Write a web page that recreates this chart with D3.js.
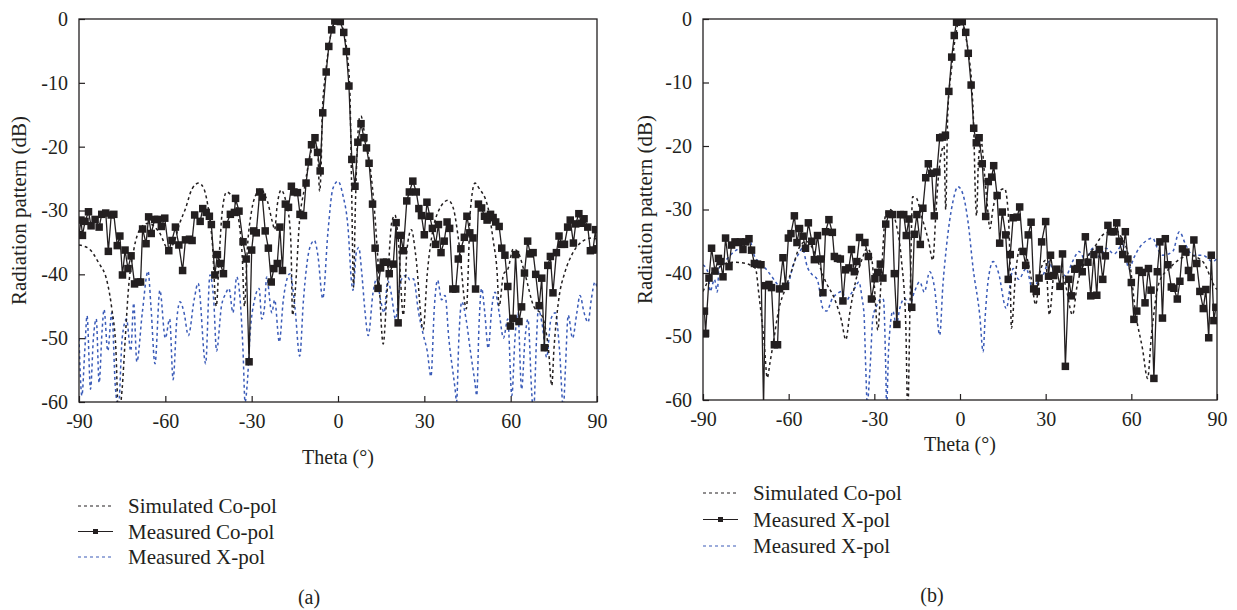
<!DOCTYPE html>
<html>
<head>
<meta charset="utf-8">
<script src="https://cdn.jsdelivr.net/npm/d3@7"></script>
<style>
  body { margin: 0; background: #fff; }
  svg text { font-family: "Liberation Serif", "DejaVu Serif", serif; fill: #231f20; }
</style>
</head>
<body>
<svg id="chart" width="1237" height="610"></svg>
<script>
// ---- data (theta in degrees, level in dB) ----
const xTicks = [-90, -60, -30, 0, 30, 60, 90];
const yTicks = [0, -10, -20, -30, -40, -50, -60];

// panel (a) simulated co-pol
const simThetaA = [-90,-86.5,-83.3,-80.2,-78.6,-77.2,-76.3,-75,-74,-72.8,-70.9,-68.6,-66,-62,-59,-57,-55,-53,-50.7,-48.4,-46.6,-44.9,-43.7,-42.3,-41.2,-40.2,-38.7,-37.3,-35.6,-34.4,-33.3,-32.5,-31.5,-30,-28.5,-26.7,-25.5,-24.5,-22.8,-22,-21.2,-19.8,-18.1,-16.8,-16.3,-15.8,-14.8,-13.4,-11.7,-9.9,-8.2,-7,-6.4,-5.8,-5.5,-4.1,-2.3,-0.4,1.7,3.1,4.1,4.7,5.4,6,6.7,7.6,8,9.3,11.1,12.8,14,15.7,16.9,18.7,19.8,21,22.7,24,25.5,27,29.6,31,33,35,38.3,40.1,42,44.6,46,47.6,49,52.2,54,55.2,56,57.5,59.1,60.9,62.5,65,68,70.8,73.1,74.3,75,76.6,78.9,81.2,84.7,88.2,90];
const simDbA = [-35.4,-36,-38.1,-41.2,-45.4,-51.6,-62,-57.9,-50.6,-42.2,-36,-32.8,-32,-33.5,-36,-35,-32,-29.7,-26.6,-25.7,-26.6,-30.2,-34.9,-45,-36.5,-30,-27.1,-27.5,-28.8,-31.8,-37,-45,-36,-30,-27.5,-26.6,-27.5,-28.6,-31.8,-33,-29.5,-26.8,-28.6,-32,-36,-46.4,-42.2,-31.8,-26.6,-21.9,-19.2,-21.3,-27,-22,-15.1,-7.7,-2,-0.2,-1.5,-5.1,-10.9,-25.5,-42,-30,-20,-15.3,-15.2,-18.2,-22.9,-30.7,-38.6,-50.9,-43.8,-31.8,-30.7,-34.9,-46.4,-36,-33,-37,-48.7,-40,-33,-30,-28.4,-29.7,-35,-45.4,-30,-25.7,-26.5,-29.7,-34.9,-39.1,-45,-40,-39.1,-36,-36.5,-40,-45,-46.4,-51.6,-57.4,-52,-44.3,-39.6,-37,-34.9,-34.3,-34.5];

// panel (a) measured co-pol
const measThetaA = [-90,-89.3,-88.8,-87.9,-86.7,-85.8,-84.4,-83,-82.1,-80.7,-79.8,-78.8,-77.9,-76.7,-75.8,-74.9,-74,-73,-71.9,-70.7,-69.5,-68.6,-67.9,-66.7,-65.8,-64.9,-63.7,-62.6,-61.4,-60.2,-58.8,-57.7,-56.5,-55.3,-54,-53,-51.6,-50.7,-49.8,-47.9,-47,-45.8,-44.7,-44,-42.8,-41.9,-40.9,-39.8,-38.8,-37.4,-36,-35.6,-34.4,-33,-31.9,-30.9,-30,-29.3,-28.4,-27.2,-26.3,-25.3,-24.2,-23.2,-22.3,-21.1,-20.2,-19.3,-18.3,-17.2,-16.2,-15.3,-14.1,-13.2,-12,-11.1,-10.2,-9.2,-8,-7.1,-6.2,-5.3,-4.1,-3.2,-2.2,-1.1,0,0.8,2,2.9,3.8,4.8,5.9,6.9,8,9,9.9,10.8,12,12.9,13.9,14.8,15.7,16.9,17.8,19.2,20.2,20.9,21.8,22.7,23.9,24.8,26,27.2,28.1,29,30,30.9,31.9,32.8,33.9,34.9,35.8,36.9,37.9,38.8,39.9,40.9,41.8,42.7,43.9,44.8,45.8,46.9,47.8,48.8,49.9,50.9,51.8,53,53.9,54.8,56,56.9,58,59,59.9,60.8,61.7,62.9,63.8,64.8,65.9,66.8,67.8,68.7,69.9,70.8,71.7,72.9,73.8,74.7,75.9,76.8,77.7,78.7,79.8,80.7,81.8,82.6,83.7,84.6,85.5,86.8,87.7,88.6,89.5,90];
const measDbA = [-33.8,-31.5,-33.9,-31.7,-30.2,-32.4,-31.4,-32.6,-30.6,-30.4,-36.4,-30.7,-30.6,-35.5,-34,-40.1,-36.2,-39.1,-37.1,-41.5,-41.2,-41.2,-32.9,-35.2,-31,-33.6,-31.4,-31.4,-32.5,-31.2,-36.3,-34.7,-32.6,-35.4,-39.4,-34.6,-34.5,-34.7,-30.7,-31.7,-29.7,-30.3,-30.9,-32.2,-40.1,-36.9,-38.3,-39.9,-32.2,-30.6,-30.3,-28.1,-30.1,-34.9,-37.6,-53.7,-36.2,-33.2,-33.5,-27.1,-27.9,-33.2,-35.9,-41.2,-39.1,-38.3,-32.6,-39.4,-29,-29.5,-26.2,-27.1,-27.2,-30.6,-30.8,-25.7,-22.4,-19.7,-18.6,-20.9,-23.8,-14.7,-8.3,-4.3,-1.7,-0.3,-0.3,-0.4,-2.1,-5.1,-10.5,-22,-26.2,-19.3,-16.4,-18.6,-20.2,-22.6,-29,-35.9,-42.2,-39,-38.1,-38.1,-39.9,-38.4,-31.9,-47.6,-33.9,-36.3,-28.5,-27.1,-25.4,-27.1,-29.7,-30.8,-33.8,-28.7,-30.9,-32.8,-35.3,-32.2,-36.6,-34.8,-31.8,-32.8,-42.3,-42.3,-37.6,-36,-34.2,-30.9,-33.5,-34.3,-42.3,-29,-29.6,-30.9,-31.5,-30.6,-31.1,-31.8,-32.5,-35.9,-37,-41.9,-48.1,-46.9,-36.9,-47.4,-45.1,-39.8,-34.8,-36.8,-36.6,-40,-44.9,-40.6,-51.5,-38.6,-37.2,-42.9,-36.6,-34,-35.3,-35.3,-32.6,-31.5,-35.1,-32.1,-30.5,-32,-31.3,-32.6,-36.3,-36.2,-33,-36];

// panel (a) measured x-pol
const xpolThetaA = [-90,-89,-88,-87.2,-86,-85,-84,-83,-82,-81.3,-80,-78.6,-77.4,-76.3,-75,-73.5,-72,-71,-69.9,-68,-66,-65,-63.6,-61.9,-60,-58.5,-57.3,-56,-54.9,-53.5,-52,-50,-48.6,-46,-44.5,-43.2,-42.2,-40.5,-39,-37.9,-36.5,-35.2,-34,-33,-32.3,-31.5,-30.5,-29,-27.4,-26.5,-25.5,-24.8,-23,-22,-20.4,-19,-16.7,-15,-13.3,-12,-9.9,-8.2,-7,-5.3,-3.5,-1.8,0,1.7,3.5,4.7,5.2,6.4,7.2,8.3,9.3,10.5,12.2,13.4,14.8,16,17.3,18.5,20,21.8,23.9,25,26.2,28,29.7,31,32.3,33.5,34.6,36,37.2,38.5,40.7,41.2,42,43,44.5,46,47.6,48.2,49,49.9,51,52.2,53.5,54.6,56,57.5,59,60.4,61.5,62.5,63.8,65,66,67.3,67.9,69,69.6,71,72.5,74,75.5,77,78.3,79,80,81.5,83,84.1,85.5,86.9,88,89.3,90];
const xpolDbA = [-50,-59,-52,-46.5,-58,-50,-47,-57,-49,-45.5,-52,-46,-57.4,-61,-50,-47,-52,-44.5,-53.7,-46,-39.5,-45,-54,-42.5,-50,-47,-56.5,-47,-44.3,-46,-49.6,-44,-41.4,-54,-40.1,-44,-52,-45,-43,-42.2,-46,-40.4,-44,-52,-60,-56.9,-49,-44,-42.2,-47,-45,-40.4,-46,-44,-50.6,-44,-39.9,-45,-52.8,-44,-36,-34.7,-37,-43.8,-33.4,-26.6,-25.4,-27.6,-32.8,-41.2,-42.5,-36.5,-35.8,-40,-45.4,-49.6,-42.8,-40.7,-44,-46,-41,-43,-47,-41,-40.1,-40.9,-40.7,-46,-49.6,-52,-56,-45,-40.9,-44,-43.3,-50,-58,-60,-50,-44.3,-47,-52,-57,-59,-48,-42.2,-46,-51.6,-45,-42.8,-46,-50,-47,-59,-50,-46,-58,-50,-47,-58.4,-62,-50,-45.4,-48,-53,-47,-46,-52,-61,-55,-46.4,-50,-46,-43.3,-46,-47.5,-44,-41.2,-42];

// panel (b) simulated co-pol
const simThetaB = [-90,-88,-86.7,-84,-82.1,-79,-75,-72.5,-71.6,-70.4,-68.6,-67.5,-66.5,-65.7,-63.4,-61.1,-58.7,-56.4,-54,-52,-50.6,-47,-44,-41.5,-40,-38.5,-36.6,-34.2,-32.5,-31,-30,-28.8,-27.5,-26,-24.5,-22.5,-20.5,-19,-18.3,-17.5,-16.6,-15.3,-13.5,-11,-9.5,-8.5,-7.7,-6.5,-5.6,-5,-4.3,-3,-1.5,0,1.5,3,4.2,4.8,5.4,5.8,6.5,7.5,8.5,9.5,10.5,11.5,13,15.6,16.8,17.5,18,19.5,21,23,25,26.5,28,30,31.3,33,35,37,39.4,41,44,47,50,52.1,54,56,59.2,61.6,63.9,65.7,67,69.8,73.3,77,80.3,85,89.6,90];
const simDbB = [-42.9,-41,-39.8,-39,-38.5,-38.3,-38.5,-39,-39.3,-43.5,-50.8,-56.5,-54,-51.9,-45.6,-42.4,-39.3,-36.1,-35,-35.8,-37.2,-41.4,-44,-47.5,-50.5,-46,-41.4,-37.7,-36.1,-37.5,-42,-49,-40,-30.6,-30,-32,-38,-48,-62,-45,-28,-28.2,-31,-35,-38,-31,-25.6,-21,-20,-30,-15,-8,-2.5,0,-1.8,-5.5,-11,-17,-28,-31,-22,-19.5,-24,-29,-33,-30,-27.5,-26.7,-30,-38,-48.7,-40,-36,-37,-41,-45,-40,-38,-46.6,-40,-39.5,-42,-46.6,-42,-38,-36,-34,-33.5,-33,-34,-37.7,-46.6,-51.9,-56.6,-50,-41.4,-39.3,-37.8,-37.2,-38.2,-42.4,-42.6];

// panel (b) measured (solid with markers)
const measThetaB = [-89.5,-89.1,-87.9,-87,-85.8,-84.6,-83.9,-83,-82.1,-80.9,-80,-78.8,-77.9,-76.9,-76,-75.1,-73.9,-73,-72,-70.9,-69.7,-68.8,-68.1,-66.9,-66,-65,-63.9,-63.2,-62,-61.1,-60.1,-59.2,-58,-57.1,-56.2,-55,-54.1,-53.1,-51.9,-51,-49.9,-48.9,-48,-47.1,-45.9,-44.7,-44,-42.9,-41.9,-41,-40.1,-38.9,-38,-37,-36.1,-35.2,-33.3,-32.1,-31,-29.8,-28.8,-27.9,-27,-26,-24.9,-23.7,-23,-22.1,-20.9,-19.7,-18.8,-17.9,-16.9,-16,-15.1,-13.9,-13,-12,-11.1,-9.9,-9,-8.1,-7.1,-6.1,-5.1,-3.9,-2.9,-2,-1.2,-0.1,0.8,2,2.9,3.9,4.8,5.7,6.7,7.8,9,9.9,11.1,11.8,13,13.9,14.8,16,16.9,17.6,18.6,20,20.9,22.1,23,23.9,24.9,25.8,26.7,27.7,28.6,30,31,31.7,32.8,33.9,35,35.9,36.9,38.1,39,40.2,41.1,41.9,42.8,43.9,44.8,45.8,46.9,47.9,48.8,50,50.9,51.8,53,53.9,54.9,55.8,57,57.9,58.8,60,60.9,61.9,62.7,63.9,64.8,66,66.9,67.9,69.1,70,70.9,71.9,72.8,74,74.9,76.1,77,77.9,79.1,80,80.9,81.9,82.9,84,85.2,86.1,87.1,88,88.9,89.6];
const measDbB = [-46,-49.5,-40.8,-36.1,-39.7,-37.7,-38.2,-40.6,-34.5,-39,-35.6,-35.1,-35.2,-35.1,-36.3,-35.1,-34.6,-36.4,-38.5,-38.6,-38.7,-61,-42,-41.8,-42.3,-51.3,-51.3,-42.5,-37.6,-42.1,-34.5,-33.8,-31,-35.2,-33,-34.2,-36.1,-32.1,-35,-37.9,-34.1,-37.8,-43.1,-33.5,-31.6,-33.6,-37.4,-37.7,-37.8,-44.4,-39.5,-39.2,-36.3,-39.8,-38.2,-34.4,-35.2,-37.4,-44.1,-40.9,-39.9,-38.6,-40.8,-32.3,-30.7,-30.8,-40.1,-48.1,-30.8,-30.8,-34.1,-31.5,-45.4,-33.9,-30.8,-35.5,-29.8,-25,-22.8,-24.3,-31,-24.1,-18.7,-18.6,-18.3,-11.4,-6,-2.6,-0.5,-0.4,-0.4,-2.1,-5.4,-10.4,-17.2,-19.5,-18.7,-22.8,-31.1,-25.6,-24.9,-23.1,-27.8,-35.3,-30.4,-34,-41,-37.1,-31.3,-31.2,-29.6,-36.6,-38.8,-34,-32,-42.5,-42.9,-40.8,-35.1,-31.9,-40.5,-37.2,-40.4,-39.4,-42.1,-37,-54.7,-41,-43.6,-39.4,-39.3,-38.4,-39.8,-34.3,-38.3,-43.6,-37.1,-43.5,-36.3,-41,-37.3,-32.5,-33.5,-33.5,-32.1,-35,-37.1,-33.5,-37.8,-41.5,-47.3,-46,-39.6,-39.9,-44.7,-39.3,-42.7,-56.6,-39.8,-35.1,-47.1,-34.6,-38.7,-42.2,-42.4,-44.1,-41.3,-36.2,-36.7,-39.6,-40.7,-34.8,-38.5,-42.9,-45.6,-42.6,-50.2,-37.2,-47.5,-45.4];

// panel (b) measured x-pol
const xpolThetaB = [-90,-88.2,-87.5,-86,-85,-84.4,-82,-80,-77.4,-75.5,-73.9,-72.1,-70,-68.1,-66,-64.6,-61.9,-60,-58.4,-56.5,-55.2,-53.5,-51.7,-50,-48,-46.7,-44.7,-43.2,-41.2,-40,-38.5,-37,-35.4,-34.3,-33.6,-33,-32.5,-31.5,-30.5,-29,-27.5,-26.8,-26,-25.7,-25,-23.5,-22.3,-21.1,-19.5,-17.6,-16,-14.1,-12.5,-10.6,-8.9,-7.1,-6,-4.8,-2.5,-0.7,1.1,2.8,4.6,6.9,8.1,8.8,9.8,11.6,13.5,16.2,18.6,20.5,23.2,25.6,27.5,29.1,31.2,33,34.8,37,39.4,41.7,44,46.5,49,51.1,54,56.9,59.2,61,62.7,65,67.5,69,71,74.5,76.8,79.1,81.5,85,88.5,90];
const xpolDbB = [-38.7,-40,-42.9,-41,-43,-39.3,-38,-37,-36.1,-35.5,-34.5,-37.2,-38.5,-39.3,-40.5,-41.4,-42.6,-41.5,-38.7,-37,-36.1,-39,-40.3,-41,-45.6,-46,-44,-43.3,-42.9,-44.5,-43.5,-42.5,-41.4,-44,-46.6,-55,-60.5,-55,-47,-45,-44,-44.2,-55,-61,-52,-46,-48.2,-45.6,-44,-45,-43,-41.4,-43,-39.8,-42.4,-49.8,-42,-36.1,-28.8,-26.4,-27.7,-31.9,-39.3,-46.6,-52.4,-47,-41.4,-38.2,-40,-45.6,-39.3,-41,-39.3,-42.9,-41,-40.3,-38.2,-40,-39.3,-40.5,-38.2,-36.6,-38,-36.1,-37.5,-36.1,-37,-35.6,-39.3,-37.5,-36.1,-35,-34.5,-36,-37.2,-36.6,-33.5,-35.6,-37.2,-37.2,-38.2,-37.7];

const legendA = ["Simulated Co-pol", "Measured Co-pol", "Measured X-pol"];
const legendB = ["Simulated Co-pol", "Measured X-pol", "Measured X-pol"];

const BLUE = "#3a5bb8";
const INK = "#231f20";

const svg = d3.select("#chart");

function zip(xs, ys) {
    return xs.map((x, i) => ({ t: x, v: ys[i] }));
}

function drawPanel(opt) {
    const x = d3.scaleLinear().domain([-90, 90]).range([opt.left, opt.left + opt.width]);
    const y = d3.scaleLinear().domain([-60, 0]).range([opt.top + opt.height, opt.top]);

    const g = svg.append("g");

    // clip so deep nulls stop at the frame
    g.append("clipPath").attr("id", opt.id + "-clip")
        .append("rect")
        .attr("x", opt.left).attr("y", opt.top)
        .attr("width", opt.width).attr("height", opt.height);

    const line = d3.line().x(d => x(d.t)).y(d => y(d.v));
    const smooth = d3.line().x(d => x(d.t)).y(d => y(d.v)).curve(d3.curveMonotoneX);

    const plot = g.append("g").attr("clip-path", `url(#${opt.id}-clip)`);

    plot.append("path")
        .datum(zip(opt.xpolT, opt.xpolV))
        .attr("d", smooth)
        .attr("fill", "none")
        .attr("stroke", BLUE)
        .attr("stroke-width", 1.5)
        .attr("stroke-dasharray", "3,3");

    plot.append("path")
        .datum(zip(opt.simT, opt.simV))
        .attr("d", smooth)
        .attr("fill", "none")
        .attr("stroke", INK)
        .attr("stroke-width", 1.5)
        .attr("stroke-dasharray", "3,3");

    const meas = zip(opt.measT, opt.measV);
    plot.append("path")
        .datum(meas)
        .attr("d", line)
        .attr("fill", "none")
        .attr("stroke", INK)
        .attr("stroke-width", 1.3);

    plot.append("g")
        .selectAll("rect")
        .data(meas)
        .join("rect")
        .attr("x", d => x(d.t) - 3.75)
        .attr("y", d => y(d.v) - 3.75)
        .attr("width", 7.5)
        .attr("height", 7.5)
        .attr("fill", INK);

    // axes with inward ticks
    const xAxis = g.append("g")
        .attr("transform", `translate(0,${opt.top + opt.height})`)
        .call(d3.axisBottom(x).tickValues(xTicks).tickSize(-6).tickPadding(12).tickFormat(d => String(d)));
    const yAxis = g.append("g")
        .attr("transform", `translate(${opt.left},0)`)
        .call(d3.axisLeft(y).tickValues(yTicks).tickSize(-6).tickPadding(11).tickFormat(d => String(d)));

    [xAxis, yAxis].forEach(a => {
        a.select(".domain").remove();
        a.selectAll(".tick line").attr("stroke", INK).attr("stroke-width", 1.2);
        a.selectAll(".tick text").attr("font-size", 20).attr("font-family", "Liberation Serif").attr("fill", INK);
    });

    g.append("rect")
        .attr("x", opt.left).attr("y", opt.top)
        .attr("width", opt.width).attr("height", opt.height)
        .attr("fill", "none")
        .attr("stroke", INK)
        .attr("stroke-width", 1.3);

    // axis titles
    g.append("text")
        .attr("x", opt.left + opt.width / 2)
        .attr("y", opt.xTitleY)
        .attr("text-anchor", "middle")
        .attr("font-size", 20)
        .text("Theta (°)");

    g.append("text")
        .attr("transform", `translate(${opt.yTitleX},${opt.top + opt.height / 2}) rotate(-90)`)
        .attr("text-anchor", "middle")
        .attr("dominant-baseline", "central")
        .attr("font-size", 21)
        .text("Radiation pattern (dB)");

    // legend
    const styles = [
        { color: INK, dash: "3,3", marker: false },
        { color: INK, dash: null, marker: true },
        { color: BLUE, dash: "3,3", marker: false }
    ];
    const leg = g.append("g");
    opt.legend.forEach((label, i) => {
        const ly = opt.legendY + i * opt.legendStep;
        const s = styles[i];
        leg.append("line")
            .attr("x1", opt.legendX).attr("x2", opt.legendX + 35)
            .attr("y1", ly).attr("y2", ly)
            .attr("stroke", s.color)
            .attr("stroke-width", 1.2)
            .attr("stroke-dasharray", s.dash);
        if (s.marker) {
            leg.append("rect")
                .attr("x", opt.legendX + 17.5 - 2.5).attr("y", ly - 2.5)
                .attr("width", 5).attr("height", 5)
                .attr("fill", INK);
        }
        leg.append("text")
            .attr("x", opt.legendX + 50)
            .attr("y", ly + 7)
            .attr("font-size", 21)
            .text(label);
    });

    g.append("text")
        .attr("x", opt.tagX)
        .attr("y", opt.tagY)
        .attr("text-anchor", "middle")
        .attr("font-size", 20)
        .text(opt.tag);
}

drawPanel({
    id: "a", left: 79, top: 19, width: 518, height: 383,
    simT: simThetaA, simV: simDbA,
    measT: measThetaA, measV: measDbA,
    xpolT: xpolThetaA, xpolV: xpolDbA,
    xTitleY: 464, yTitleX: 19,
    legend: legendA, legendX: 78, legendY: 506, legendStep: 25.5,
    tag: "(a)", tagX: 309, tagY: 604
});

drawPanel({
    id: "b", left: 703, top: 19, width: 514, height: 381,
    simT: simThetaB, simV: simDbB,
    measT: measThetaB, measV: measDbB,
    xpolT: xpolThetaB, xpolV: xpolDbB,
    xTitleY: 451, yTitleX: 645,
    legend: legendB, legendX: 703, legendY: 493, legendStep: 26.5,
    tag: "(b)", tagX: 932, tagY: 602
});
</script>
</body>
</html>
